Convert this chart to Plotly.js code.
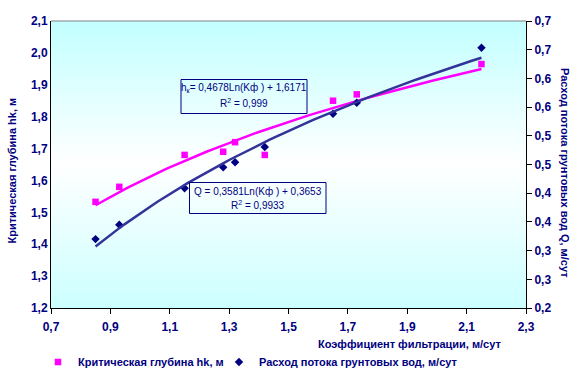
<!DOCTYPE html>
<html>
<head>
<meta charset="utf-8">
<script src="https://cdn.plot.ly/plotly-3.0.1.min.js"></script>
<style>
html,body{margin:0;padding:0;background:#ffffff;}
#chart{width:576px;height:377px;}
</style>
</head>
<body>
<div id="chart"></div>
<script>
// ---- data ----
const kf = [0.85, 0.93, 1.15, 1.28, 1.32, 1.42, 1.65, 1.73, 2.15];
const hk = [1.533, 1.58, 1.68, 1.69, 1.72, 1.68, 1.85, 1.87, 1.965];
const q  = [0.32, 0.345, 0.4085, 0.445, 0.454, 0.4805, 0.5385, 0.5577, 0.6535];

const hkName = "Критическая глубина hk, м";
const qName = "Расход потока грунтовых вод, м/сут";
const xTitle = "Коэффициент фильтрации, м/сут";
const yTitle = "Критическая глубина hk, м";
const y2Title = "Расход потока грунтовых вод Q, м/сут";
const eqHk1 = "h<sub>к</sub>= 0,4678Ln(Kф ) + 1,6171";
const eqHk2 = "R<sup>2</sup> = 0,999";
const eqQ1 = "Q = 0,3581Ln(Kф ) + 0,3653";
const eqQ2 = "R<sup>2</sup> = 0,9933";

const y2TickVals = [0.2, 0.25, 0.3, 0.35, 0.4, 0.45, 0.5, 0.55, 0.6, 0.65, 0.7];
const y2TickText = ["0,2", "0,3", "0,3", "0,4", "0,4", "0,5", "0,5", "0,6", "0,6", "0,7", "0,7"];

// logarithmic least-squares trend (as the spreadsheet does)
function logFit(xs, ys) {
  const L = xs.map(Math.log);
  const n = xs.length;
  const mL = L.reduce((a, b) => a + b, 0) / n;
  const mY = ys.reduce((a, b) => a + b, 0) / n;
  let sxy = 0, sxx = 0;
  for (let i = 0; i < n; i++) { sxy += (L[i] - mL) * (ys[i] - mY); sxx += (L[i] - mL) ** 2; }
  const b = sxy / sxx, a = mY - b * mL;
  const x0 = Math.min(...xs), x1 = Math.max(...xs);
  const tx = [], ty = [];
  for (let k = 0; k <= 80; k++) { const x = x0 + (x1 - x0) * k / 80; tx.push(x); ty.push(a + b * Math.log(x)); }
  return {x: tx, y: ty};
}
const tHk = logFit(kf, hk);
const tQ = logFit(kf, q);

const navy = "#000080";
const F = "Arial, 'Liberation Sans', sans-serif";

const traces = [
  {x: kf, y: hk, type: "scatter", mode: "markers", name: hkName, legend: "legend",
   marker: {symbol: "square", size: 6.5, color: "#FF00FF"}, yaxis: "y"},
  {x: kf, y: q, type: "scatter", mode: "markers", name: qName, legend: "legend2",
   marker: {symbol: "diamond", size: 6.5, color: navy}, yaxis: "y2"},
  {x: tHk.x, y: tHk.y, type: "scatter", mode: "lines", showlegend: false, hoverinfo: "skip",
   line: {color: "#FF00FF", width: 2.5}, yaxis: "y"},
  {x: tQ.x, y: tQ.y, type: "scatter", mode: "lines", showlegend: false, hoverinfo: "skip",
   line: {color: "#333399", width: 2.5}, yaxis: "y2"}
];

const bg = "data:image/svg+xml;charset=utf-8," + encodeURIComponent(
  '<svg xmlns="http://www.w3.org/2000/svg" width="100" height="100" preserveAspectRatio="none">' +
  '<defs><linearGradient id="g" x1="0" y1="0" x2="0" y2="1">' +
  '<stop offset="0" stop-color="#c2ffff"/><stop offset="0.5" stop-color="#ffffff"/><stop offset="1" stop-color="#ccffff"/>' +
  '</linearGradient></defs><rect width="100" height="100" fill="url(#g)"/></svg>');

const W = 475, H = 287, L0 = 51, T0 = 21;
const px = x => (x - L0) / W;
const py = y => (T0 + H - y) / H;

const tickFont = {family: F, size: 12, color: navy, weight: 700};
const titleFont = {family: F, size: 11, color: navy, weight: 700};
const eqFont = {family: F, size: 10, color: navy};
const legFont = {family: F, size: 11, color: navy, weight: 700};

const layout = {
  width: 576, height: 377,
  margin: {l: 51, r: 50, t: 21, b: 69, pad: 0, autoexpand: false},
  paper_bgcolor: "#ffffff",
  plot_bgcolor: "rgba(0,0,0,0)",
  separators: ", ",
  showlegend: true,
  xaxis: {
    range: [0.7, 2.3], tick0: 0.7, dtick: 0.2, tickformat: ".1f",
    showgrid: false, zeroline: false, showline: true, linecolor: "#000000", linewidth: 1,
    ticks: "outside", ticklen: 5, tickcolor: "#000000", tickfont: tickFont, ticklabelstandoff: 3
  },
  yaxis: {
    range: [1.2, 2.1], tick0: 1.2, dtick: 0.1, tickformat: ".1f",
    showgrid: false, zeroline: false, showline: true, linecolor: "#000000", linewidth: 1,
    ticks: "", tickfont: tickFont
  },
  yaxis2: {
    overlaying: "y", side: "right", range: [0.2, 0.7],
    tickmode: "array", tickvals: y2TickVals, ticktext: y2TickText,
    showgrid: false, zeroline: false, showline: true, linecolor: "#000000", linewidth: 1,
    ticks: "outside", ticklen: 5, tickcolor: "#000000", tickfont: tickFont
  },
  legend: {
    orientation: "h", x: px(38), xanchor: "left", y: py(362), yanchor: "middle",
    font: legFont, bgcolor: "rgba(0,0,0,0)", itemwidth: 30
  },
  legend2: {
    orientation: "h", x: px(219), xanchor: "left", y: py(362), yanchor: "middle",
    font: legFont, bgcolor: "rgba(0,0,0,0)", itemwidth: 30
  },
  images: [{source: bg, xref: "paper", yref: "paper", x: 0, y: 1, sizex: 1, sizey: 1,
            sizing: "stretch", xanchor: "left", yanchor: "top", layer: "below"}],
  shapes: [
    {type: "line", xref: "paper", yref: "paper", x0: 0, x1: 1, y0: 1, y1: 1, line: {color: "#808080", width: 1}},
    {type: "rect", xref: "paper", yref: "paper", x0: px(181), x1: px(307), y0: py(79.5), y1: py(113.5), line: {color: navy, width: 1}},
    {type: "rect", xref: "paper", yref: "paper", x0: px(189.5), x1: px(326), y0: py(182.5), y1: py(213.5), line: {color: navy, width: 1}}
  ],
  annotations: [
    {text: eqHk1, xref: "paper", yref: "paper", x: px(244), y: py(87.5), xanchor: "center", yanchor: "middle", showarrow: false, font: eqFont},
    {text: eqHk2, xref: "paper", yref: "paper", x: px(244), y: py(103), xanchor: "center", yanchor: "middle", showarrow: false, font: eqFont},
    {text: eqQ1, xref: "paper", yref: "paper", x: px(257.5), y: py(191.5), xanchor: "center", yanchor: "middle", showarrow: false, font: eqFont},
    {text: eqQ2, xref: "paper", yref: "paper", x: px(257.5), y: py(205), xanchor: "center", yanchor: "middle", showarrow: false, font: eqFont},
    {text: xTitle, xref: "paper", yref: "paper", x: px(503), y: py(344), xanchor: "right", yanchor: "middle", showarrow: false, font: titleFont},
    {text: yTitle, xref: "paper", yref: "paper", x: px(11.5), y: py(171), xanchor: "center", yanchor: "middle", textangle: -90, showarrow: false, font: titleFont},
    {text: y2Title, xref: "paper", yref: "paper", x: px(565), y: py(173), xanchor: "center", yanchor: "middle", textangle: 90, showarrow: false, font: titleFont}
  ]
};

Plotly.newPlot("chart", traces, layout, {staticPlot: true, displayModeBar: false});
</script>
</body>
</html>
